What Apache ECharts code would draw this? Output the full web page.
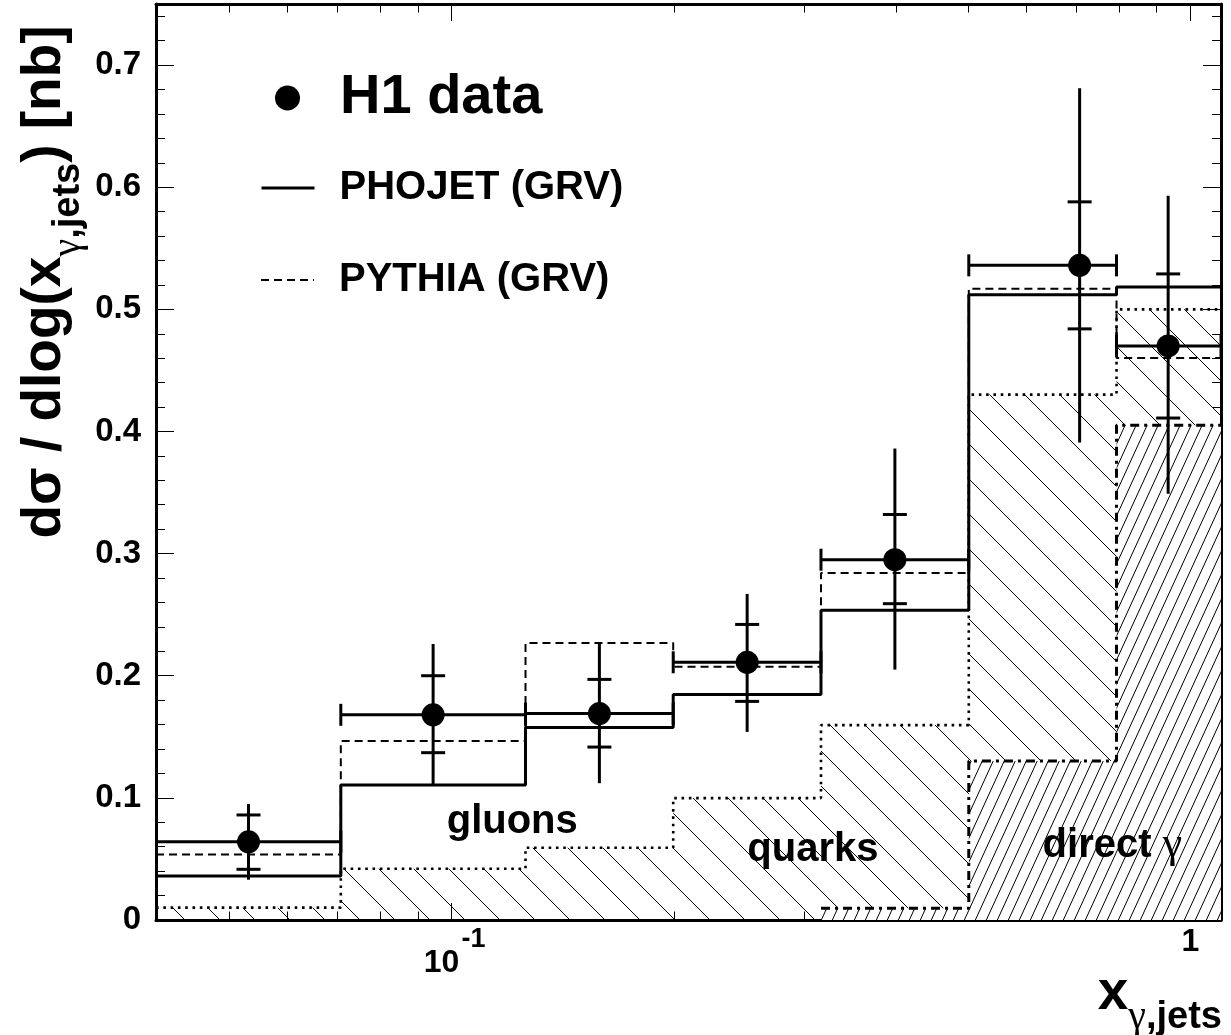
<!DOCTYPE html>
<html><head><meta charset="utf-8">
<script src="https://cdn.jsdelivr.net/npm/echarts@6/dist/echarts.min.js"></script>
<style>html,body{margin:0;padding:0;background:#fff}#c{width:1231px;height:1035px}</style>
</head><body><div id="c"></div><script>
// ---- data (x in raw x_gamma,jets units; drawn on a log10 scale) ----
const binEdges   = [0.0398, 0.0708, 0.1259, 0.1995, 0.3162, 0.5012, 0.7943, 1.1];
const pointX     = [0.0531, 0.0944, 0.1585, 0.2512, 0.3981, 0.708, 0.933];
const h1Data     = [0.064, 0.168, 0.169, 0.211, 0.295, 0.536, 0.470];
const statLow    = [0.0415, 0.137, 0.1416, 0.179, 0.259, 0.484, 0.411];
const statHigh   = [0.086, 0.200, 0.197, 0.242, 0.332, 0.588, 0.529];
const totLow     = [0.033, 0.111, 0.112, 0.154, 0.205, 0.391, 0.349];
const totHigh    = [0.095, 0.226, 0.226, 0.267, 0.386, 0.681, 0.593];
const phojet     = [0.036, 0.1105, 0.1577, 0.1847, 0.2537, 0.512, 0.5183];
const pythia     = [0.0537, 0.1465, 0.2269, 0.2073, 0.2842, 0.5169, 0.4602];
const quarksDir  = [0.0101, 0.042, 0.0592, 0.0998, 0.1596, 0.4302, 0.500];
const directG    = [0, 0, 0, 0, 0.0097, 0.1301, 0.405];
const xMajorTicks = [0.1, 1];
const xMinorTicks = [0.04,0.05,0.06,0.07,0.08,0.09,0.2,0.3,0.4,0.5,0.6,0.7,0.8,0.9];
const yMajorTicks = [0,0.1,0.2,0.3,0.4,0.5,0.6,0.7];
const yMinorTicks = [0.02,0.04,0.06,0.08,0.12,0.14,0.16,0.18,0.22,0.24,0.26,0.28,0.32,0.34,0.36,0.38,0.42,0.44,0.46,0.48,0.52,0.54,0.56,0.58,0.62,0.64,0.66,0.68,0.72,0.74];
const regionLabels = [
  {text: 'gluons',   greek: '',  x: 0.1208, y: 0.080},
  {text: 'quarks',   greek: '',  x: 0.3083, y: 0.057},
  {text: 'direct ',  greek: 'γ', x: 0.784,  y: 0.061}
];
const X_MIN = 0.0398, X_MAX = 1.1, Y_MIN = 0, Y_MAX = 0.75;

const L = Math.log10;
const FONT = "'Liberation Sans', Arial, Helvetica, sans-serif";
const GREEK = "'Liberation Serif', 'DejaVu Serif', serif";

function stepData(vals, startIdx) {
  const pts = [];
  for (let i = startIdx || 0; i < vals.length; i++) pts.push([L(binEdges[i]), vals[i]]);
  pts.push([L(binEdges[binEdges.length - 1]), vals[vals.length - 1]]);
  return pts;
}

function hatch(w, h, bg, draw) {
  const c = document.createElement('canvas');
  c.width = w; c.height = h;
  const g = c.getContext('2d');
  if (bg) { g.fillStyle = bg; g.fillRect(0, 0, w, h); }
  g.strokeStyle = '#000'; g.lineWidth = 1;
  draw(g, w, h);
  return c;
}
const backHatch = hatch(35, 35, null, (g, w, h) => {
  for (let k = -1; k <= 1; k++) { g.beginPath(); g.moveTo(k * w, 0); g.lineTo(k * w + w, h); g.stroke(); }
});
const fwdHatch = hatch(11, 24, '#fff', (g, w, h) => {
  for (let k = -1; k <= 1; k++) { g.beginPath(); g.moveTo(k * w, h); g.lineTo(k * w + w, 0); g.stroke(); }
});

const errData = pointX.map((x, i) => [L(x), h1Data[i], statLow[i], statHigh[i], totLow[i], totHigh[i], L(binEdges[i]), L(binEdges[i + 1])]);
const directStart = directG.findIndex(v => v > 0);

const chart = echarts.init(document.getElementById('c'), null, {renderer: 'canvas'});

const baseX = {type: 'value', min: L(X_MIN), max: L(X_MAX), splitLine: {show: false}, axisLabel: {show: false}};
const baseY = {type: 'value', min: Y_MIN, max: Y_MAX, splitLine: {show: false}, axisLabel: {show: false}};
const tick = (vals, len) => ({show: true, inside: true, length: len, customValues: vals, lineStyle: {color: '#000', width: 1}});
const frameLine = {show: true, onZero: false, lineStyle: {color: '#000', width: 3}};
const noLine = {show: false, onZero: false};

const titleRich = {
  m: {fontFamily: FONT, fontWeight: 'bold', fontSize: 55, lineHeight: 86, fill: '#000'},
  g: {fontFamily: GREEK, fontWeight: 'normal', fontSize: 40, lineHeight: 38, verticalAlign: 'bottom', fill: '#000'},
  s: {fontFamily: FONT, fontWeight: 'bold', fontSize: 38, lineHeight: 38, verticalAlign: 'bottom', fill: '#000'}
};
const legendText = {fontFamily: FONT, fontWeight: 'bold', color: '#000'};

const option = {
  animation: false,
  backgroundColor: '#fff',
  grid: {left: 156, top: 4, width: 1065, height: 916, containLabel: false},
  xAxis: [
    Object.assign({}, baseX, {position: 'bottom', axisLine: frameLine, axisTick: tick(xMajorTicks.map(L), 17),
      axisLabel: {show: true, customValues: xMajorTicks.map(L), margin: 6,
        formatter: v => Math.abs(v + 1) < 1e-6 ? '{b|10}{e|-1}' : '{one|1}',
        rich: {
          b: {fontFamily: FONT, fontWeight: 'bold', fontSize: 32, color: '#000', lineHeight: 74, padding: [0, 0, 0, 6]},
          e: {fontFamily: FONT, fontWeight: 'bold', fontSize: 27, color: '#000', lineHeight: 12, verticalAlign: 'top', padding: [0, 0, 0, 2]},
          one: {fontFamily: FONT, fontWeight: 'bold', fontSize: 32, color: '#000', lineHeight: 22, verticalAlign: 'top'}
        }}}),
    Object.assign({}, baseX, {position: 'bottom', axisLine: noLine, axisTick: tick(xMinorTicks.map(L), 8.5)}),
    Object.assign({}, baseX, {position: 'top', axisLine: frameLine, axisTick: tick(xMajorTicks.map(L), 17)}),
    Object.assign({}, baseX, {position: 'top', axisLine: noLine, axisTick: tick(xMinorTicks.map(L), 8.5)})
  ],
  yAxis: [
    Object.assign({}, baseY, {position: 'left', axisLine: frameLine, axisTick: tick(yMajorTicks, 18),
      axisLabel: {show: true, customValues: yMajorTicks, margin: 15, fontFamily: FONT, fontWeight: 'bold', fontSize: 33, color: '#000',
        formatter: v => v === 0 ? '0' : v.toFixed(1)}}),
    Object.assign({}, baseY, {position: 'left', axisLine: noLine, axisTick: tick(yMinorTicks, 9)}),
    Object.assign({}, baseY, {position: 'right', axisLine: frameLine, axisTick: tick(yMajorTicks, 18)}),
    Object.assign({}, baseY, {position: 'right', axisLine: noLine, axisTick: tick(yMinorTicks, 9)})
  ],
  legend: [
    {data: [{name: 'H1 data', icon: 'circle'}], left: 275, top: 70, padding: 0, selectedMode: false,
      itemWidth: 53, itemHeight: 25, formatter: n => '{p| }{t|' + n + '}',
      textStyle: Object.assign({}, legendText, {rich: {p: {width: 21}, t: Object.assign({fontSize: 56}, legendText)}})},
    {data: ['PHOJET (GRV)'], left: 260, top: 168, padding: 0, selectedMode: false,
      itemWidth: 53, itemHeight: 20, formatter: n => '{p| }{t|' + n + '}', lineStyle: {width: 3},
      textStyle: Object.assign({}, legendText, {rich: {p: {width: 20}, t: Object.assign({fontSize: 40}, legendText)}})},
    {data: ['PYTHIA (GRV)'], left: 260, top: 260, padding: 0, selectedMode: false,
      itemWidth: 53, itemHeight: 20, formatter: n => '{p| }{t|' + n + '}', lineStyle: {width: 2},
      textStyle: Object.assign({}, legendText, {rich: {p: {width: 20}, t: Object.assign({fontSize: 40}, legendText)}})}
  ],
  graphic: [
    {type: 'text', x: 45, y: 282, rotation: Math.PI / 2, z: 100,
      style: {text: '{m|dσ / dlog(x}{g|γ}{s|,jets}{m|) [nb]}', align: 'center', verticalAlign: 'middle', rich: titleRich}},
    {type: 'text', x: 1222, y: 994, z: 100,
      style: {text: '{m|x}{g|γ}{s|,jets}', align: 'right', verticalAlign: 'middle', rich: titleRich}}
  ],
  series: [
    {name: 'quarks', type: 'line', step: 'end', data: stepData(quarksDir), symbol: 'none', z: 2,
      lineStyle: {color: '#000', width: 2.6, type: [2.6, 4.7]}, areaStyle: {color: {image: backHatch, repeat: 'repeat'}, opacity: 1}},
    {name: 'direct', type: 'line', step: 'end', data: stepData(directG, directStart), symbol: 'none', z: 3,
      lineStyle: {color: '#000', width: 3, type: [9, 5, 3, 5]}, areaStyle: {color: {image: fwdHatch, repeat: 'repeat'}, opacity: 1}},
    {name: 'PYTHIA (GRV)', type: 'line', step: 'end', data: stepData(pythia), symbol: 'none', z: 4,
      itemStyle: {color: '#000', opacity: 0},
      lineStyle: {color: '#000', width: 2, type: [8, 5]}},
    {name: 'PHOJET (GRV)', type: 'line', step: 'end', data: stepData(phojet), symbol: 'none', z: 5,
      itemStyle: {color: '#000', opacity: 0},
      lineStyle: {color: '#000', width: 3}},
    {name: 'H1 data', type: 'custom', z: 6, clip: true, data: errData, itemStyle: {color: '#000'},
      encode: {x: 0, y: 1},
      renderItem: function (params, api) {
        const xc = api.value(0), y = api.value(1);
        const p = api.coord([xc, y]);
        const pl = api.coord([api.value(6), y]), ph = api.coord([api.value(7), y]);
        const ysl = api.coord([xc, api.value(2)])[1], ysh = api.coord([xc, api.value(3)])[1];
        const ytl = api.coord([xc, api.value(4)])[1], yth = api.coord([xc, api.value(5)])[1];
        const st = {stroke: '#000', lineWidth: 3};
        const ln = (x1, y1, x2, y2) => ({type: 'line', shape: {x1, y1, x2, y2}, style: st});
        return {type: 'group', children: [
          ln(pl[0], p[1], ph[0], p[1]),
          ln(pl[0], p[1] - 11, pl[0], p[1] + 11),
          ln(ph[0], p[1] - 11, ph[0], p[1] + 11),
          ln(p[0], yth, p[0], ytl),
          ln(p[0] - 12, ysh, p[0] + 12, ysh),
          ln(p[0] - 12, ysl, p[0] + 12, ysl),
          {type: 'circle', shape: {cx: p[0], cy: p[1], r: 11.5}, style: {fill: '#000'}}
        ]};
      }},
    {name: 'labels', type: 'custom', z: 7, silent: true,
      data: regionLabels.map(d => [L(d.x), d.y]),
      renderItem: function (params, api) {
        const d = regionLabels[params.dataIndex];
        const p = api.coord([api.value(0), api.value(1)]);
        return {type: 'text', x: p[0], y: p[1], style: {
          text: '{a|' + d.text + '}' + (d.greek ? '{g|' + d.greek + '}' : ''),
          align: 'center', verticalAlign: 'middle',
          rich: {a: {fontFamily: FONT, fontWeight: 'bold', fontSize: 40, fill: '#000', lineHeight: 46},
                 g: {fontFamily: GREEK, fontWeight: 'normal', fontSize: 44, fill: '#000', lineHeight: 46}}}};
      }}
  ]
};
chart.setOption(option);
</script></body></html>
